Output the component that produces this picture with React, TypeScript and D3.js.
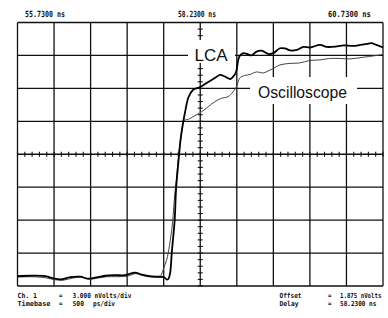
import React from "react";
import * as d3 from "d3";

// Time (ns) and amplitude (mV)
const lcaTime = [55.73, 55.90, 56.11, 56.24, 56.34, 56.45, 56.59, 56.69, 56.79, 56.93, 57.06, 57.20, 57.34, 57.43, 57.54, 57.65, 57.73, 57.78, 57.80, 57.82, 57.84, 57.88, 57.90, 57.94, 57.96, 57.99, 58.02, 58.07, 58.13, 58.23, 58.34, 58.45, 58.50, 58.57, 58.64, 58.68, 58.72, 58.75, 58.77, 58.82, 58.87, 58.93, 59.00, 59.07, 59.16, 59.23, 59.32, 59.39, 59.46, 59.55, 59.64, 59.73, 59.87, 59.96, 60.10, 60.19, 60.32, 60.42, 60.51, 60.57, 60.64, 60.73];
const lcaVolts = [-9.23, -9.19, -9.23, -9.46, -9.51, -9.32, -9.28, -9.46, -9.37, -9.19, -9.14, -9.14, -8.91, -9.10, -9.23, -9.28, -9.32, -9.55, -9.41, -8.87, -7.13, -4.13, -1.21, 1.80, 3.17, 4.54, 5.63, 7.09, 7.73, 8.00, 8.46, 8.91, 9.10, 8.94, 8.73, 8.94, 9.37, 10.47, 10.83, 11.08, 11.01, 10.88, 11.22, 11.31, 11.01, 11.08, 11.53, 11.51, 11.33, 11.38, 11.65, 11.60, 11.83, 11.65, 11.70, 11.79, 11.74, 11.83, 11.92, 11.99, 11.83, 11.60];

const scopeTime = [55.73, 55.90, 56.11, 56.24, 56.35, 56.48, 56.61, 56.72, 56.82, 56.95, 57.09, 57.23, 57.35, 57.47, 57.58, 57.68, 57.70, 57.73, 57.77, 57.81, 57.84, 57.86, 57.88, 57.91, 57.93, 57.95, 57.97, 57.99, 58.02, 58.07, 58.13, 58.25, 58.34, 58.43, 58.52, 58.61, 58.68, 58.73, 58.77, 58.84, 58.91, 59.00, 59.09, 59.16, 59.23, 59.32, 59.46, 59.59, 59.73, 59.87, 60.00, 60.14, 60.28, 60.46, 60.60, 60.73];
const scopeVolts = [-9.32, -9.28, -9.37, -9.55, -9.60, -9.41, -9.32, -9.51, -9.41, -9.28, -9.28, -9.23, -9.00, -9.23, -9.32, -9.28, -9.05, -8.50, -7.77, -6.41, -5.04, -3.67, -1.85, -0.02, 1.53, 2.71, 3.63, 4.54, 4.99, 5.06, 5.29, 5.75, 6.21, 6.66, 6.97, 7.12, 7.57, 8.09, 8.82, 9.05, 9.14, 9.37, 9.28, 9.46, 9.69, 10.01, 10.15, 10.19, 10.42, 10.47, 10.60, 10.60, 10.56, 10.71, 10.83, 10.97];

const timeLabels = ["55.7300 ns", "58.2300 ns", "60.7300 ns"];
const seriesNames = ["LCA", "Oscilloscope"];

const tStart = 55.73;
const tPerDiv = 0.5;
const xDivs = 10;
const offset = 1.875;
const vPerDiv = 3.0;
const yDivs = 8;

export default function App() {
  const vMin = offset - (yDivs / 2) * vPerDiv;
  const vMax = offset + (yDivs / 2) * vPerDiv;
  const tEnd = tStart + xDivs * tPerDiv;
  const tCenter = tStart + (xDivs / 2) * tPerDiv;
  const x = d3.scaleLinear().domain([tStart, tEnd]).range([17.5, 383]);
  const y = d3.scaleLinear().domain([vMin, vMax]).range([286, 22.5]);

  const xGrid = d3.range(xDivs + 1).map((i) => tStart + i * tPerDiv);
  const yGrid = d3.range(yDivs + 1).map((j) => vMin + j * vPerDiv);
  const xMinor = d3.range(xDivs * 5 + 1).map((i) => tStart + i * tPerDiv / 5);
  const yMinor = d3.range(yDivs * 5 + 1).map((j) => vMin + j * vPerDiv / 5);

  const line = d3
    .line<[number, number]>()
    .x((d) => x(d[0]))
    .y((d) => y(d[1]))
    .curve(d3.curveCatmullRom.alpha(0.5));

  const lcaPath = line(lcaTime.map((t, i) => [t, lcaVolts[i]]) as [number, number][]) || "";
  const scopePath = line(scopeTime.map((t, i) => [t, scopeVolts[i]]) as [number, number][]) || "";

  const mono = "'DejaVu Sans Mono', monospace";
  // monospace text squeezed horizontally to a given width via transform
  const txt = (s: string, px: number, py: number, width: number, fs: number) => {
    const natural = s.length * 0.602 * fs;
    const sx = width / natural;
    return (
      <g key={s + px + py} transform={`translate(${px},${py}) scale(${sx.toFixed(3)},1)`}>
        <text x={0} y={0} fontFamily={mono} fontSize={fs} fontWeight="bold" fill="#111">
          {s}
        </text>
      </g>
    );
  };

  return (
    <svg width={388} height={318} style={{ position: "absolute", left: 0, top: 0, background: "#fff" }}>
      <rect x={0} y={0} width={388} height={318} fill="#fff" />
      {/* graticule */}
      <g stroke="#111" strokeWidth={1.3}>
        {xGrid.map((t, i) => (
          <line key={"vx" + i} x1={x(t)} x2={x(t)} y1={y(vMax)} y2={y(vMin)} />
        ))}
        {yGrid.map((v, j) => (
          <line key={"hy" + j} x1={x(tStart)} x2={x(tEnd)} y1={y(v)} y2={y(v)} />
        ))}
      </g>
      <g stroke="#111" strokeWidth={1.1}>
        {xMinor.map((t, i) => (
          <line key={"mx" + i} x1={x(t)} x2={x(t)} y1={y(offset) - 2.5} y2={y(offset) + 2.5} />
        ))}
        {yMinor.map((v, j) => (
          <line key={"my" + j} x1={x(tCenter) - 2.5} x2={x(tCenter) + 2.5} y1={y(v)} y2={y(v)} />
        ))}
      </g>
      {/* label knockouts */}
      <rect x={188} y={40} width={47} height={23} fill="#fff" />
      <rect x={250} y={77} width={107} height={27} fill="#fff" />
      <text x={211} y={61} textAnchor="middle" fontFamily="'Liberation Sans', Arial, sans-serif" fontSize={17} fill="#111">
        {seriesNames[0]}
      </text>
      <text x={258} y={97.5} fontFamily="'Liberation Sans', Arial, sans-serif" fontSize={16.5} fill="#111" textLength={89} lengthAdjust="spacingAndGlyphs">
        {seriesNames[1]}
      </text>
      {/* traces */}
      <path d={scopePath} fill="none" stroke="#444" strokeWidth={1} />
      <path d={lcaPath} fill="none" stroke="#000" strokeWidth={1.8} />
      {/* top time labels */}
      {txt(timeLabels[0], 25, 16.5, 40, 8.5)}
      {txt(timeLabels[1], 178, 16.5, 38, 8.5)}
      {txt(timeLabels[2], 328, 16.5, 43, 8.5)}
      {/* bottom info */}
      {txt("Ch. 1", 17.5, 298, 19.5, 7)}
      {txt("=", 59, 298, 3.5, 7)}
      {txt("3.000 nVolts/div", 72.5, 298, 59, 7)}
      {txt("Timebase", 17.5, 306, 33, 7)}
      {txt("=", 59, 306, 3.5, 7)}
      {txt("500", 72.5, 306, 11.5, 7)}
      {txt("ps/div", 93, 306, 22, 7)}
      {txt("Offset", 279.5, 298, 22, 7)}
      {txt("=", 328, 298, 3.5, 7)}
      {txt("1.875 nVolts", 340, 298, 41.5, 7)}
      {txt("Delay", 279.5, 306, 19, 7)}
      {txt("=", 328, 306, 3.5, 7)}
      {txt("58.2300 ns", 340, 306, 36.5, 7)}
    </svg>
  );
}
